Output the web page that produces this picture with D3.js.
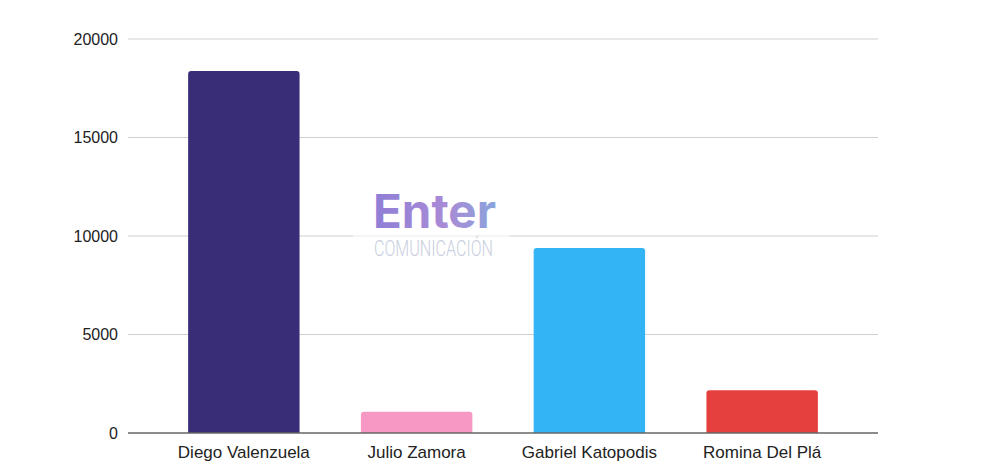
<!DOCTYPE html>
<html><head><meta charset="utf-8">
<script src="https://cdn.jsdelivr.net/npm/d3@7"></script>
<style>body{margin:0;background:#fff;}svg{display:block;font-family:"Liberation Sans",Arial,sans-serif;}</style>
</head><body>
<svg id="c" width="1000" height="475"></svg>
<script>
const categories = ["Diego Valenzuela","Julio Zamora","Gabriel Katopodis","Romina Del Plá"];
const values = [18380, 1080, 9390, 2170];
const colors = ["#3a2d78","#f797c4","#33b5f5","#e5403e"];
const yTicks = [0,5000,10000,15000,20000];

const svg = d3.select("#c");
const x = d3.scaleBand().domain(categories).range([128,878]).paddingInner(0.355).paddingOuter(0.348);
const y = d3.scaleLinear().domain([0,20000]).range([433,39]);

svg.append("g").selectAll("line").data(yTicks.filter(d=>d>0)).join("line")
  .attr("x1",128).attr("x2",878).attr("y1",d=>y(d)).attr("y2",d=>y(d))
  .attr("stroke","#d0d0d0").attr("stroke-width",1.2);

svg.append("g").selectAll("text").data(yTicks).join("text")
  .attr("x",118).attr("y",d=>y(d)).attr("dy","0.35em").attr("text-anchor","end")
  .attr("font-size",16).attr("fill","#222").text(d=>d);

function barPath(d,i){
  const x0 = x(categories[i]), w = x.bandwidth(), y0 = y(d), y1 = y(0), r = 3;
  return `M${x0},${y1}V${y0+r}Q${x0},${y0} ${x0+r},${y0}H${x0+w-r}Q${x0+w},${y0} ${x0+w},${y0+r}V${y1}Z`;
}
svg.append("g").selectAll("path").data(values).join("path")
  .attr("d",barPath).attr("fill",(d,i)=>colors[i]);

svg.append("line").attr("x1",128).attr("x2",878).attr("y1",y(0)).attr("y2",y(0))
  .attr("stroke","#666").attr("stroke-width",1.5);

svg.append("g").selectAll("text").data(categories).join("text")
  .attr("x",d=>x(d)+x.bandwidth()/2).attr("y",458).attr("text-anchor","middle")
  .attr("font-size",17).attr("fill","#222").text(d=>d);

const defs = svg.append("defs");
const grad = defs.append("linearGradient").attr("id","wg").attr("x1","0%").attr("x2","100%");
grad.append("stop").attr("offset","0%").attr("stop-color","#8f7fd6");
grad.append("stop").attr("offset","60%").attr("stop-color","#a98bd6");
grad.append("stop").attr("offset","100%").attr("stop-color","#8aa4dc");
const wm = svg.append("g");
wm.append("rect").attr("x",353).attr("y",186).attr("width",157).attr("height",76).attr("fill","#fff").attr("opacity",0.6);
wm.append("text").attr("x",373).attr("y",228).attr("font-size",47).attr("font-weight",700)
  .attr("font-family","Inter, 'Open Sans', sans-serif").attr("fill","url(#wg)")
  .attr("textLength",123).attr("lengthAdjust","spacingAndGlyphs").text("Enter");
wm.append("text").attr("x",374).attr("y",256).attr("font-size",22).attr("font-weight",300)
  .attr("font-family","Roboto, sans-serif").attr("fill","#c9cfe0")
  .attr("textLength",119).attr("lengthAdjust","spacingAndGlyphs").text("COMUNICACIÓN");
</script>
</body></html>
